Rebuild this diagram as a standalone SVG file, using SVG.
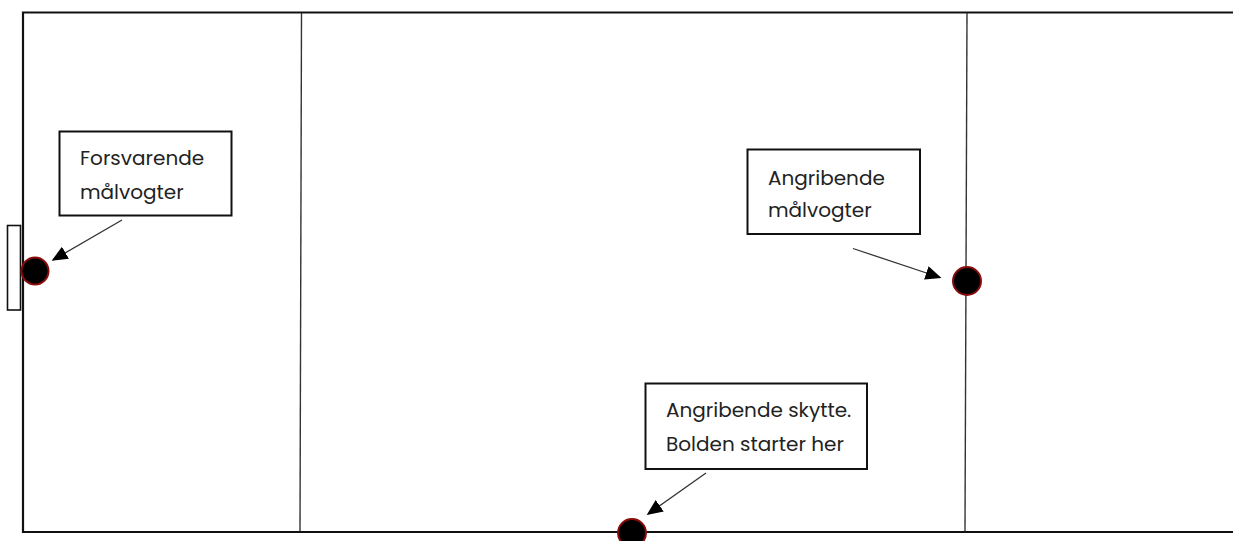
<svg xmlns="http://www.w3.org/2000/svg" width="1233" height="541" viewBox="0 0 1233 541">
<defs>
<style>
.field{fill:none;stroke:#111;stroke-width:2.2}
.mid{stroke:#333;stroke-width:1.4}
.box{fill:#fff;stroke:#111;stroke-width:2}
.lbl{font-family:"Poppins","Open Sans","Noto Sans",sans-serif;font-size:20px;fill:#222}
.player{fill:#000;stroke:#8b0a0a;stroke-width:2}
.arrow{stroke:#333;stroke-width:1.3;fill:none;marker-end:url(#ah)}
</style>
<marker id="ah" viewBox="0 0 10 10" refX="9" refY="5" markerWidth="16" markerHeight="14" markerUnits="userSpaceOnUse" orient="auto" preserveAspectRatio="none">
<path d="M0,0 L10,5 L0,10 z" fill="#000"/>
</marker>
</defs>
<rect width="1233" height="541" fill="#fff"/>
<g id="field">
<path class="field" d="M1233,12.5 H23 V532 H1233"/>
<line class="mid" x1="301.5" y1="13" x2="300" y2="531"/>
<line class="mid" x1="967" y1="13" x2="965" y2="531"/>
<rect id="goal" x="7.5" y="225.5" width="13" height="84.5" fill="#fff" stroke="#111" stroke-width="1.6"/>
</g>
<g id="connectors">
<line class="arrow" x1="122" y1="220" x2="53" y2="260"/>
<line class="arrow" x1="853" y1="248.5" x2="940" y2="277.5"/>
<line class="arrow" x1="706" y1="473" x2="648" y2="514"/>
</g>
<g id="p1"><circle class="player" cx="35" cy="271" r="13.5"/></g>
<g id="p2"><circle class="player" cx="967" cy="281" r="14"/></g>
<g id="p3"><circle class="player" cx="632" cy="533" r="14"/></g>
<g id="n1">
<rect class="box" x="59.5" y="131.5" width="172" height="84"/>
<text class="lbl" x="80" y="165">Forsvarende</text>
<text class="lbl" x="80" y="199">målvogter</text>
</g>
<g id="n2">
<rect class="box" x="747.5" y="149.5" width="172.5" height="84.5"/>
<text class="lbl" x="768" y="185">Angribende</text>
<text class="lbl" x="768" y="217">målvogter</text>
</g>
<g id="n3">
<rect class="box" x="645.5" y="383.5" width="221.5" height="85.5"/>
<text class="lbl" x="666" y="417">Angribende skytte.</text>
<text class="lbl" x="666" y="451">Bolden starter her</text>
</g>
</svg>
